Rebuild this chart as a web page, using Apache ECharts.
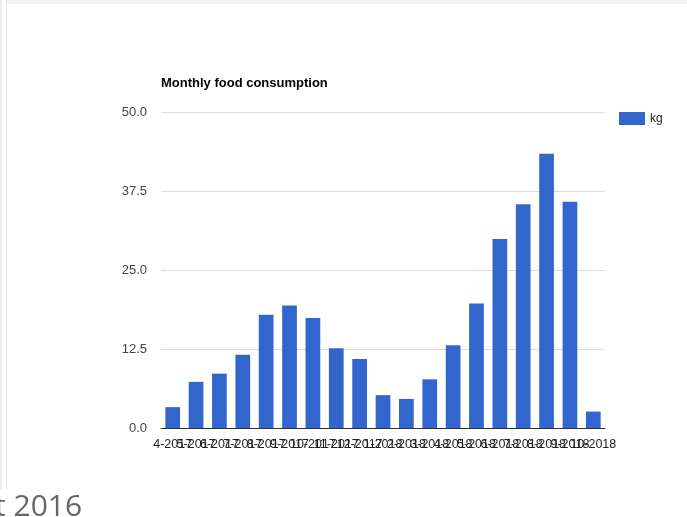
<!DOCTYPE html>
<html lang="en">
<head>
  <meta charset="UTF-8">
  <title>Monthly food consumption</title>
  <script type="text/javascript" src="https://cdn.jsdelivr.net/npm/echarts@6/dist/echarts.min.js"></script>
  <style>
    html, body { margin: 0; padding: 0; background: #fff; }
  </style>
</head>
<body>
<div id="main" style="width: 687px;height:517px;"></div>
<script type="text/javascript">
  // month labels (M-YYYY)
  var months = ['4-2017', '5-2017', '6-2017', '7-2017', '8-2017', '9-2017', '10-2017',
    '11-2017', '12-2017', '1-2018', '2-2018', '3-2018', '4-2018', '5-2018',
    '6-2018', '7-2018', '8-2018', '9-2018', '10-2018'];
  // kg per month
  var kg = [3.3, 7.3, 8.6, 11.6, 17.9, 19.4, 17.4, 12.6, 10.9, 5.2, 4.6, 7.7,
    13.1, 19.7, 29.9, 35.4, 43.4, 35.8, 2.6];
  var yTicks = { min: 0, max: 50, step: 12.5 };

  var myChart = echarts.init(document.getElementById('main'));
  var font = '"Liberation Sans", Arial, sans-serif';

  myChart.setOption({
    animation: false,
    title: {
      text: 'Monthly food consumption',
      left: 161,
      top: 77,
      padding: 0,
      textStyle: { fontFamily: font, fontSize: 13, fontWeight: 'bold', color: '#000' }
    },
    legend: {
      data: ['kg'],
      orient: 'vertical',
      left: 619,
      top: 112,
      padding: 0,
      itemWidth: 26,
      itemHeight: 13,
      itemGap: 6,
      icon: 'rect',
      textStyle: { fontFamily: font, fontSize: 12, color: '#222' }
    },
    grid: {
      left: 161,
      right: 82,
      top: 112,
      bottom: 89,
      containLabel: false
    },
    xAxis: {
      type: 'category',
      data: months,
      axisTick: { show: false },
      axisLine: { lineStyle: { color: '#333', width: 1 } },
      axisLabel: {
        interval: 0,
        hideOverlap: false,
        margin: 10,
        fontFamily: font,
        fontSize: 12.5,
        color: '#222'
      }
    },
    yAxis: {
      type: 'value',
      min: yTicks.min,
      max: yTicks.max,
      interval: yTicks.step,
      axisLine: { show: false },
      axisTick: { show: false },
      splitLine: { lineStyle: { color: '#ddd', width: 1 } },
      axisLabel: {
        margin: 14,
        fontFamily: font,
        fontSize: 13,
        color: '#444',
        formatter: function (v) { return v.toFixed(1); }
      }
    },
    series: [{
      name: 'kg',
      type: 'bar',
      data: kg,
      barCategoryGap: '37%',
      itemStyle: { color: '#3366cc' }
    }],
    graphic: [
      { type: 'rect', shape: { x: 6, y: 0, width: 681, height: 4 }, style: { fill: '#f0f0f0' }, silent: true },
      { type: 'rect', shape: { x: 0, y: 0, width: 2, height: 490 }, style: { fill: '#ececec' }, silent: true },
      { type: 'rect', shape: { x: 6, y: 0, width: 1, height: 490 }, style: { fill: '#e4e4e4' }, silent: true },
      {
        type: 'text',
        left: -5,
        top: 492,
        style: { text: 't 2016', fill: '#666', font: '30px "Open Sans", "Noto Sans", sans-serif' },
        silent: true
      }
    ]
  });
</script>
</body>
</html>
